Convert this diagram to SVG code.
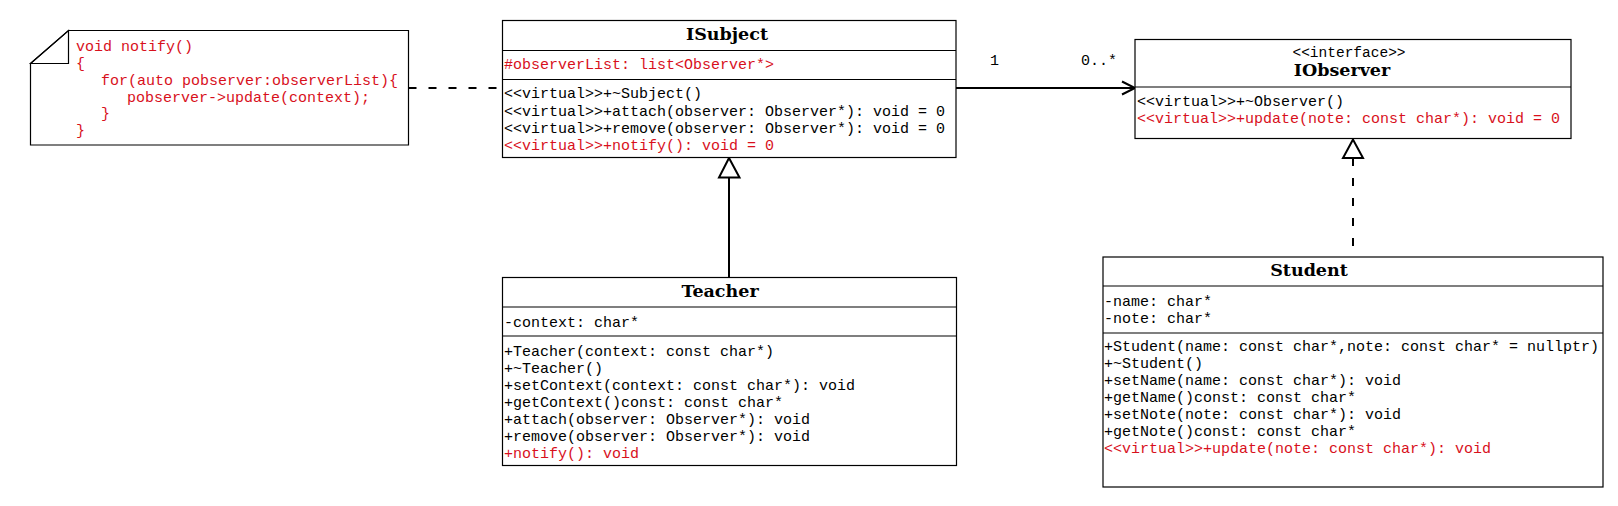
<svg xmlns="http://www.w3.org/2000/svg" width="1618" height="506" viewBox="0 0 1618 506">
<style>
.box{fill:#fff;stroke:#000;stroke-width:1.2}
.sep{stroke:#000;stroke-width:1.2;fill:none}
.t{font-family:"Liberation Mono","DejaVu Sans Mono",monospace;font-size:15px;fill:#000}
.r{fill:#D8101C}
.title{font-family:"DejaVu Serif","Liberation Serif",serif;font-weight:bold;font-size:17.5px;fill:#000;text-anchor:middle}
.con{stroke:#000;stroke-width:2;fill:none}
.dash{stroke-dasharray:8,12}
.tri{fill:#fff;stroke:#000;stroke-width:2}
</style>
<rect width="1618" height="506" fill="#fff"/>
<g id="connectors">
  <path class="con dash" d="M408.5,88 H502"/>
  <path class="con" d="M956,88 H1134"/>
  <polyline class="con" points="1122,81.5 1135,88 1122,94.5"/>
  <text class="t" x="990" y="65">1</text>
  <text class="t" x="1081" y="65">0..*</text>
  <path class="con" d="M729,177.5 V277.5"/>
  <polygon class="tri" points="729,158 719,177.5 739.5,177.5"/>
  <path class="con dash" d="M1353,158 V257"/>
  <polygon class="tri" points="1353,139.5 1343,158 1363,158"/>
</g>
<g id="note">
  <path class="box" d="M68.5,30.5 H408.5 V145 H30.5 V63.5 Z"/>
  <path class="sep" d="M68.5,30.5 V63.5 H30.5 Z"/>
  <text class="t r" x="76" y="50.5">void notify()</text>
  <text class="t r" x="76" y="67.5">{</text>
  <text class="t r" x="101" y="84.5">for(auto pobserver:observerList){</text>
  <text class="t r" x="127" y="101.5">pobserver-&gt;update(context);</text>
  <text class="t r" x="101" y="118">}</text>
  <text class="t r" x="76" y="135">}</text>
</g>
<g id="ISubject">
  <rect class="box" x="502.5" y="20.5" width="453.5" height="137"/>
  <path class="sep" d="M502.5,50.5 H956 M502.5,79.5 H956"/>
  <text class="title" x="727" y="40">ISubject</text>
  <text class="t r" x="504" y="69">#observerList: list&lt;Observer*&gt;</text>
  <text class="t" x="504" y="98">&lt;&lt;virtual&gt;&gt;+~Subject()</text>
  <text class="t" x="504" y="115.5">&lt;&lt;virtual&gt;&gt;+attach(observer: Observer*): void = 0</text>
  <text class="t" x="504" y="133">&lt;&lt;virtual&gt;&gt;+remove(observer: Observer*): void = 0</text>
  <text class="t r" x="504" y="150">&lt;&lt;virtual&gt;&gt;+notify(): void = 0</text>
</g>
<g id="IObserver">
  <rect class="box" x="1135" y="39.5" width="436" height="99"/>
  <path class="sep" d="M1135,87 H1571"/>
  <text class="t" x="1349" y="56.5" text-anchor="middle" style="font-size:14.5px">&lt;&lt;interface&gt;&gt;</text>
  <text class="title" x="1342" y="76">IObserver</text>
  <text class="t" x="1137" y="106">&lt;&lt;virtual&gt;&gt;+~Observer()</text>
  <text class="t r" x="1137" y="123">&lt;&lt;virtual&gt;&gt;+update(note: const char*): void = 0</text>
</g>
<g id="Teacher">
  <rect class="box" x="502.5" y="277.5" width="454" height="188"/>
  <path class="sep" d="M502.5,307 H956.5 M502.5,336 H956.5"/>
  <text class="title" x="720" y="296.5">Teacher</text>
  <text class="t" x="504" y="327">-context: char*</text>
  <text class="t" x="504" y="356">+Teacher(context: const char*)</text>
  <text class="t" x="504" y="373">+~Teacher()</text>
  <text class="t" x="504" y="390">+setContext(context: const char*): void</text>
  <text class="t" x="504" y="407">+getContext()const: const char*</text>
  <text class="t" x="504" y="424">+attach(observer: Observer*): void</text>
  <text class="t" x="504" y="441">+remove(observer: Observer*): void</text>
  <text class="t r" x="504" y="457.5">+notify(): void</text>
</g>
<g id="Student">
  <rect class="box" x="1103" y="257" width="500" height="230"/>
  <path class="sep" d="M1103,286 H1603 M1103,333 H1603"/>
  <text class="title" x="1309" y="276">Student</text>
  <text class="t" x="1104" y="306">-name: char*</text>
  <text class="t" x="1104" y="323">-note: char*</text>
  <text class="t" x="1104" y="351">+Student(name: const char*,note: const char* = nullptr)</text>
  <text class="t" x="1104" y="368">+~Student()</text>
  <text class="t" x="1104" y="385">+setName(name: const char*): void</text>
  <text class="t" x="1104" y="402">+getName()const: const char*</text>
  <text class="t" x="1104" y="419">+setNote(note: const char*): void</text>
  <text class="t" x="1104" y="436">+getNote()const: const char*</text>
  <text class="t r" x="1104" y="453">&lt;&lt;virtual&gt;&gt;+update(note: const char*): void</text>
</g>
</svg>
